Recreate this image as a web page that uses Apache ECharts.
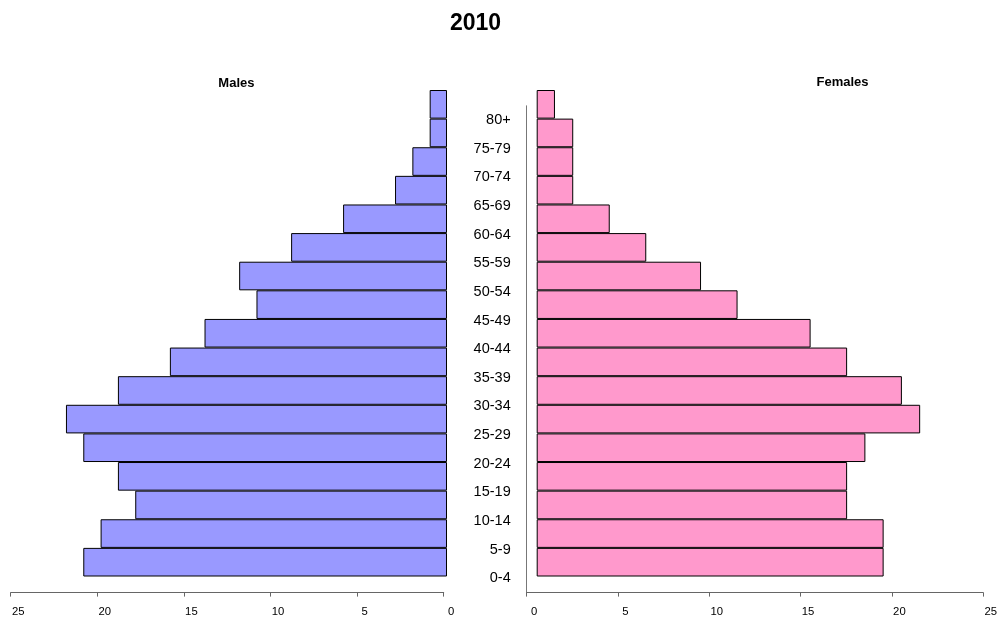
<!DOCTYPE html>
<html>
<head>
<meta charset="utf-8">
<script src="https://cdn.jsdelivr.net/npm/echarts@6/dist/echarts.min.js"></script>
<style>html,body{margin:0;padding:0;background:#fff}#c{width:1001px;height:623px}</style>
</head>
<body>
<div id="c"></div>
<script>
var ageGroups = ['0-4','5-9','10-14','15-19','20-24','25-29','30-34','35-39','40-44','45-49','50-54','55-59','60-64','65-69','70-74','75-79','80+'];
var males   = [21, 20, 18, 19, 21, 22, 19, 16, 14, 11, 12, 9, 6, 3, 2, 1, 1];
var females = [19, 19, 17, 17, 18, 21, 20, 17, 15, 11, 9, 6, 4, 2, 2, 2, 1];
var xTicks = [0, 5, 10, 15, 20, 25];
var chartTitle = '2010';
var maleLabel = 'Males';
var femaleLabel = 'Females';

var FONT = "'Liberation Sans', Arial, sans-serif";
var chart = echarts.init(document.getElementById('c'), null, {renderer: 'canvas'});
var xMax = xTicks[xTicks.length - 1];
var step = xTicks[1] - xTicks[0];

function hiddenX(idx, inverse) {
  return {gridIndex: idx, type: 'value', min: 0, max: xMax, inverse: inverse, show: false};
}
function hiddenY(idx) {
  return {gridIndex: idx, type: 'category', data: ageGroups, show: false, boundaryGap: true};
}
function visX(idx, inverse) {
  return {
    gridIndex: idx, type: 'value', min: 0, max: xMax, interval: step, inverse: inverse,
    splitLine: {show: false},
    axisLine: {show: true, lineStyle: {color: '#666', width: 1}},
    axisTick: {show: true, length: 4, inside: false, lineStyle: {color: '#666'}},
    axisLabel: {show: true, color: '#000', fontSize: 11.3, fontFamily: FONT, margin: 14, padding: [0, 0, 0, 15]}
  };
}

var option = {
  animation: false,
  backgroundColor: '#fff',
  grid: [
    {left: 14, top: 90, width: 433, height: 486.5},
    {left: 536.7, top: 90, width: 456.5, height: 486.5},
    {left: 10.7, top: 105.8, width: 433, height: 486.8},
    {left: 526.7, top: 105.8, width: 456.5, height: 486.8}
  ],
  xAxis: [
    hiddenX(0, true),
    hiddenX(1, false),
    visX(2, true),
    visX(3, false)
  ],
  yAxis: [
    hiddenY(0),
    hiddenY(1),
    {gridIndex: 2, type: 'category', data: ageGroups, show: false},
    {
      gridIndex: 3, type: 'category', data: ageGroups, boundaryGap: true,
      axisLine: {show: true, lineStyle: {color: '#777', width: 1}},
      axisTick: {show: false},
      axisLabel: {show: true, color: '#000', fontSize: 14.5, fontFamily: FONT, margin: 16, align: 'right', padding: [5, 0, 0, 0]},
      splitLine: {show: false}
    }
  ],
  series: [
    {
      name: maleLabel, type: 'bar', xAxisIndex: 0, yAxisIndex: 0, data: males,
      barCategoryGap: '0%',
      itemStyle: {color: '#9999ff', borderColor: '#000', borderWidth: 1}
    },
    {
      name: femaleLabel, type: 'bar', xAxisIndex: 1, yAxisIndex: 1, data: females,
      barCategoryGap: '0%',
      itemStyle: {color: '#ff99cc', borderColor: '#000', borderWidth: 1}
    }
  ],
  graphic: [
    {type: 'text', x: 475.5, y: 23.5, style: {text: chartTitle, fontSize: 23, fontWeight: 'bold', fontFamily: FONT, fill: '#000', align: 'center', verticalAlign: 'middle'}},
    {type: 'text', x: 236.4, y: 83.5, style: {text: maleLabel, fontSize: 13, fontWeight: 'bold', fontFamily: FONT, fill: '#000', align: 'center', verticalAlign: 'middle'}},
    {type: 'text', x: 842.5, y: 82.5, style: {text: femaleLabel, fontSize: 13, fontWeight: 'bold', fontFamily: FONT, fill: '#000', align: 'center', verticalAlign: 'middle'}}
  ]
};
chart.setOption(option);
</script>
</body>
</html>
